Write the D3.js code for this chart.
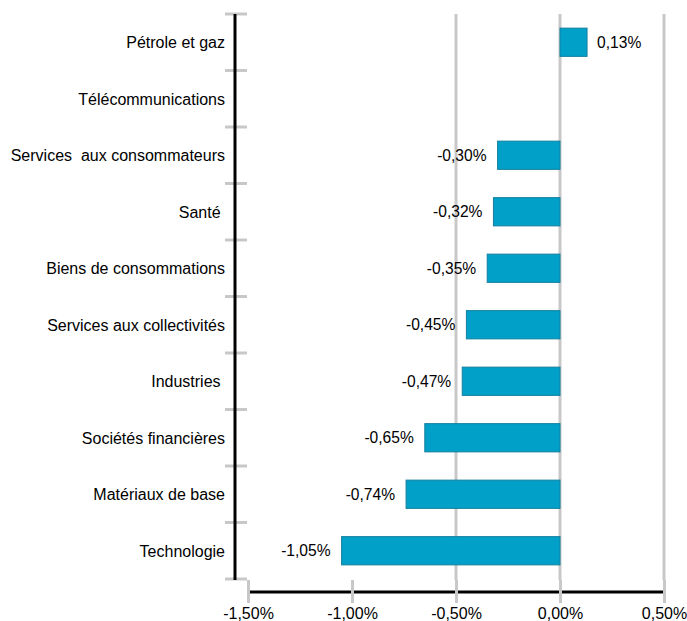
<!DOCTYPE html>
<html>
<head>
<meta charset="utf-8">
<script src="https://cdn.jsdelivr.net/npm/d3@7"></script>
<style>
  body { margin: 0; background: #fff; }
  text { font-family: "Liberation Sans", Arial, sans-serif; fill: #000; }
</style>
</head>
<body>
<svg width="687" height="621"></svg>
<script>
const sectors = ['Pétrole et gaz', 'Télécommunications', 'Services  aux consommateurs', 'Santé ',
  'Biens de consommations', 'Services aux collectivités', 'Industries ', 'Sociétés financières',
  'Matériaux de base', 'Technologie'];
const perf = [0.13, null, -0.30, -0.32, -0.35, -0.45, -0.47, -0.65, -0.74, -1.05];
const xTicks = [-1.5, -1.0, -0.5, 0, 0.5];
const gridTicks = [-0.5, 0, 0.5];

var svg = d3.select('svg');
const fmt = v => v.toFixed(2).replace('.', ',') + '%';

var x = d3.scaleLinear().domain([-1.5, 0.5]).range([248, 664]);
var y = d3.scaleBand().domain(sectors).range([14, 579]).paddingInner(0.5).paddingOuter(0.25);
var band = d3.scaleBand().domain(sectors).range([14, 579]);

// gridlines
svg.append('g')
  .selectAll('line')
  .data(gridTicks)
  .enter()
  .append('line')
  .attr('x1', d => x(d)).attr('x2', d => x(d))
  .attr('y1', 14).attr('y2', 580)
  .attr('stroke', '#c8c8c8').attr('stroke-width', 3);

// bars
var data = sectors.map((s, i) => ({ s: s, v: perf[i] })).filter(d => d.v !== null);
svg.append('g')
  .selectAll('rect')
  .data(data)
  .enter()
  .append('rect')
  .attr('x', d => x(Math.min(0, d.v)))
  .attr('width', d => Math.abs(x(d.v) - x(0)))
  .attr('y', d => y(d.s))
  .attr('height', y.bandwidth())
  .attr('fill', '#00a0c8')
  .attr('stroke', '#137f9e')
  .attr('stroke-width', 1);

svg.append('g')
  .selectAll('text')
  .data(data)
  .enter()
  .append('text')
  .attr('x', d => d.v < 0 ? x(d.v) - 11 : x(d.v) + 10)
  .attr('y', d => y(d.s) + y.bandwidth() / 2)
  .attr('dy', '0.36em')
  .attr('text-anchor', d => d.v < 0 ? 'end' : 'start')
  .attr('font-size', 15.6)
  .text(d => fmt(d.v));

// bottom axis
var xAxis = svg.append('g')
  .attr('transform', 'translate(0,592)')
  .call(d3.axisBottom(x).tickValues(xTicks).tickSize(0).tickFormat(d => fmt(d)));
xAxis.select('.domain').attr('stroke', '#000').attr('stroke-width', 3).attr('d', 'M248,0H664');
xAxis.selectAll('.tick line').attr('stroke', '#c8c8c8').attr('stroke-width', 3)
  .attr('y1', -12).attr('y2', 11);
xAxis.selectAll('.tick text').attr('font-size', 16).attr('fill', '#000')
  .attr('font-family', '"Liberation Sans", Arial, sans-serif').attr('y', 16);

// left axis
var yAxis = svg.append('g').attr('transform', 'translate(235,0)');
yAxis.selectAll('line.sep')
  .data(sectors.concat(['end']))
  .enter()
  .append('line')
  .attr('class', 'sep')
  .attr('x1', -10).attr('x2', 12)
  .attr('y1', (d, i) => i < sectors.length ? band(d) : band.range()[1])
  .attr('y2', (d, i) => i < sectors.length ? band(d) : band.range()[1])
  .attr('stroke', '#c8c8c8').attr('stroke-width', 3);
yAxis.append('line')
  .attr('x1', 0).attr('x2', 0).attr('y1', 14).attr('y2', 580)
  .attr('stroke', '#000').attr('stroke-width', 3);
yAxis.selectAll('text')
  .data(sectors)
  .enter()
  .append('text')
  .attr('x', -10)
  .attr('y', d => band(d) + band.bandwidth() / 2)
  .attr('dy', '0.38em')
  .attr('text-anchor', 'end')
  .attr('font-size', 16)
  .style('white-space', 'pre')
  .text(d => d);
</script>
</body>
</html>
